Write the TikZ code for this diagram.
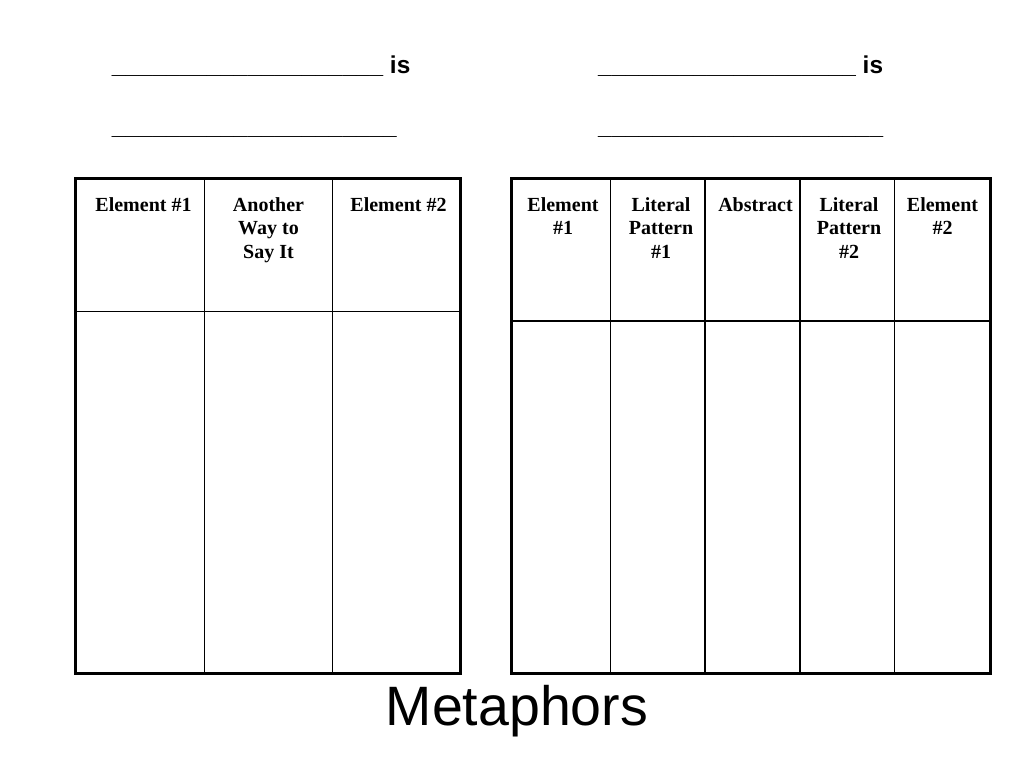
\documentclass[tikz,border=0pt]{standalone}
\usepackage{fontspec}
\setmainfont{Liberation Serif}
\setsansfont{Liberation Sans}
\begin{document}
\begin{tikzpicture}[
  x=1pt, y=-1pt,
  blank/.style={font=\sffamily\bfseries\fontsize{24.4}{29}\selectfont, inner sep=0pt, anchor=base west},
  head/.style={font=\bfseries\fontsize{20}{23.3}\selectfont, inner sep=0pt, anchor=north, align=center},
  title/.style={font=\sffamily\fontsize{55.5}{60}\selectfont, inner sep=0pt, anchor=base},
  outer/.style={line width=2.5pt},
  inner/.style={line width=1.3pt},
]
\useasboundingbox (0,0) rectangle (1024,768);

% Fill-in lines
\node[blank] (leftis) at (111.7,73) {\_\_\_\_\_\_\_\_\_\_\_\_\_\_\_\_\_\_\_\_ is};
\node[blank] (leftblank) at (111.7,134) {\_\_\_\_\_\_\_\_\_\_\_\_\_\_\_\_\_\_\_\_\_};
\node[blank] (rightis) at (598,73) {\_\_\_\_\_\_\_\_\_\_\_\_\_\_\_\_\_\_\_ is};
\node[blank] (rightblank) at (598,134) {\_\_\_\_\_\_\_\_\_\_\_\_\_\_\_\_\_\_\_\_\_};

% Left table
\foreach \x in {204.7,332.7}
  \draw[inner] (\x,178.3) -- (\x,673.3);
\draw[inner] (75.7,311.7) -- (460.5,311.7);
\draw[outer] (75.7,178.3) rectangle (460.5,673.3);

\node[head] (lelem1) at (143.5,197.5) {Element \#1};
\node[head] (lanother) at (268.5,197.5) {Another\\Way to\\Say It};
\node[head] (lelem2) at (398.5,197.5) {Element \#2};

% Right table
\foreach \x in {610.3,705,800,894.7}
  \draw[inner] (\x,178.3) -- (\x,673.3);
\draw[inner] (511.7,321) -- (990.3,321);
\draw[outer] (511.7,178.3) rectangle (990.3,673.3);

\node[head] (relem1) at (563,197.5) {Element\\\#1};
\node[head] (rlit1) at (661,197.5) {Literal\\Pattern\\\#1};
\node[head] (rabstract) at (755.5,197.5) {Abstract};
\node[head] (rlit2) at (849,197.5) {Literal\\Pattern\\\#2};
\node[head] (relem2) at (942.5,197.5) {Element\\\#2};

% Title
\node[title] (metaphors) at (517,725) {Metaphors};

\end{tikzpicture}
\end{document}
